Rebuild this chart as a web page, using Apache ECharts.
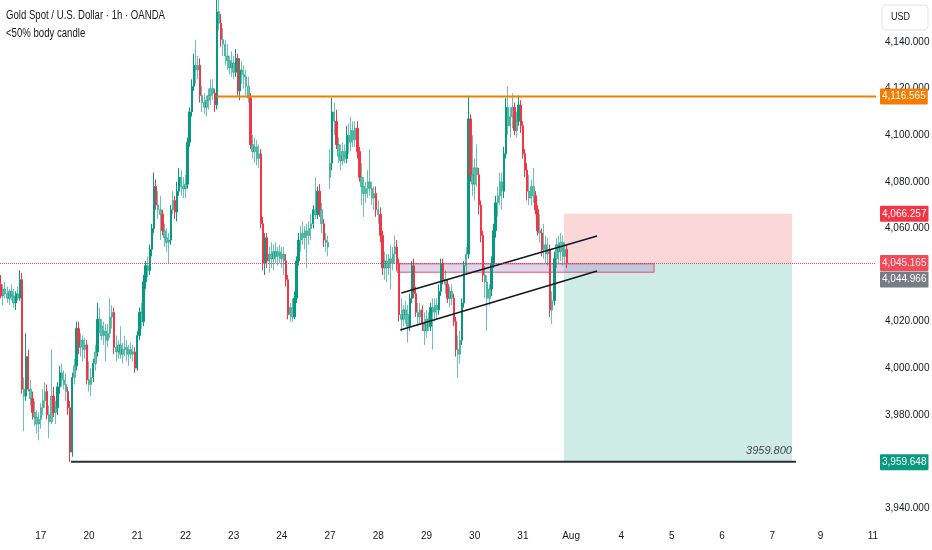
<!DOCTYPE html>
<html><head><meta charset="utf-8">
<script src="https://cdn.jsdelivr.net/npm/echarts@6/dist/echarts.min.js"></script>
<style>html,body{margin:0;padding:0;background:#fff}#c{width:932px;height:550px}</style>
</head><body><div id="c"></div>
<script>
// ---- data (hourly candles, XAU/USD) ----
const opens = [
4036,4031,4034,4032,4030,4033,4031,4028,4032,4030,
4038,3991,3988,4005,3991,3987,3981,3979,3976,3978,
3983,3986,3990,3980,3977,3988,3981,3983,3992,3998,
3995,3993,3990,3983,3964,3996,4001,4017,4009,4012,
4008,4010,3995,3993,3996,4002,4007,4021,4018,4014,
4016,4012,4015,4022,4024,4009,4007,4010,4006,4008,
4009,4006,4008,4006,4007,4000,4014,4024,4020,4037,
4044,4042,4051,4060,4078,4070,4068,4066,4059,4056,
4054,4055,4068,4072,4067,4076,4082,4078,4077,4079,
4097,4110,4121,4130,4128,4130,4117,4114,4112,4115,
4117,4120,4118,4113,4153,4148,4141,4139,4134,4132,
4129,4131,4127,4133,4119,4128,4126,4125,4121,4116,
4096,4093,4095,4090,4092,4062,4045,4056,4046,4049,
4047,4050,4048,4050,4047,4049,4046,4038,4023,4026,
4022,4030,4046,4055,4058,4056,4059,4057,4060,4062,
4068,4066,4076,4068,4062,4055,4054,4082,4088,4110,
4106,4096,4091,4089,4093,4090,4100,4097,4102,4098,
4103,4093,4082,4078,4075,4077,4080,4077,4073,4075,
4068,4066,4057,4043,4046,4043,4047,4045,4049,4052,
4045,4023,4021,4025,4023,4018,4030,4044,4032,4024,
4022,4025,4019,4016,4021,4018,4026,4024,4027,4025,
4033,4045,4038,4036,4030,4033,4030,4020,4008,4006,
4012,4028,4044,4049,4107,4083,4079,4086,4083,4070,
4057,4040,4037,4030,4034,4045,4059,4071,4074,4080,
4076,4092,4112,4104,4108,4112,4102,4106,4113,4104,
4092,4085,4076,4073,4078,4074,4068,4059,4058,4051,
4053,4049,4051,4025,4029,4047,4053,4050,4054,4048,
4051];
const highs = [
4040,4036,4037,4035,4034,4036,4034,4033,4035,4042,
4041,3996,4015,4008,3995,3990,3986,3982,3981,3985,
3991,3994,3993,3984,4008,3992,3986,3994,4001,4002,
3999,3998,3992,3986,3998,4004,4020,4020,4015,4014,
4013,4012,4003,4000,4004,4010,4028,4026,4021,4020,
4019,4019,4030,4027,4026,4014,4012,4018,4011,4014,
4012,4010,4011,4010,4009,4016,4026,4028,4040,4046,
4048,4053,4062,4084,4081,4076,4074,4068,4062,4060,
4058,4070,4076,4074,4080,4086,4085,4082,4083,4099,
4112,4124,4135,4141,4134,4133,4121,4118,4117,4120,
4124,4124,4120,4160,4162,4152,4146,4141,4139,4134,
4136,4134,4137,4135,4133,4132,4130,4128,4125,4118,
4100,4099,4098,4096,4094,4065,4058,4058,4052,4054,
4053,4054,4052,4053,4052,4052,4049,4040,4028,4030,
4033,4048,4058,4061,4063,4061,4062,4063,4066,4070,
4082,4078,4079,4071,4064,4058,4057,4094,4116,4114,
4111,4099,4096,4097,4096,4104,4105,4108,4106,4106,
4106,4095,4088,4082,4080,4085,4094,4080,4078,4078,
4072,4069,4059,4050,4049,4049,4053,4052,4057,4055,
4047,4030,4027,4029,4027,4032,4046,4047,4035,4028,
4028,4027,4024,4025,4024,4028,4030,4030,4030,4036,
4047,4047,4042,4038,4035,4036,4032,4022,4014,4016,
4030,4046,4052,4117,4109,4100,4090,4096,4086,4072,
4059,4044,4040,4036,4048,4062,4074,4078,4084,4084,
4095,4116,4121,4112,4118,4114,4110,4117,4115,4106,
4094,4088,4083,4081,4086,4076,4070,4066,4060,4062,
4057,4056,4053,4033,4050,4056,4057,4058,4057,4054,
4053];
const lows = [
4030,4027,4030,4028,4027,4029,4026,4025,4029,4029,
3989,3973,3986,3990,3984,3978,3975,3972,3969,3974,
3980,3983,3978,3970,3976,3979,3976,3980,3989,3992,
3991,3986,3980,3959.8,3962,3993,3999,4006,4005,4003,
4004,3993,3990,3988,3994,3999,4005,4015,4012,4010,
4003,4009,4013,4017,4006,4003,4004,4004,4002,4005,
4003,4001,4004,4003,3998,3999,4012,4017,4018,4034,
4039,4040,4048,4058,4068,4064,4055,4057,4052,4050,
4045,4053,4066,4064,4063,4074,4074,4073,4073,4077,
4095,4108,4119,4122,4124,4114,4110,4109,4108,4111,
4113,4115,4110,4111,4145,4138,4134,4130,4128,4126,
4125,4124,4125,4117,4115,4122,4120,4117,4114,4094,
4090,4088,4087,4086,4060,4042,4040,4043,4041,4043,
4042,4045,4044,4045,4043,4040,4035,4021,4020,4020,
4021,4028,4044,4050,4053,4051,4043,4053,4055,4060,
4064,4064,4065,4058,4052,4050,4048,4077,4085,4100,
4094,4088,4085,4087,4088,4088,4092,4093,4095,4095,
4090,4080,4070,4065,4071,4073,4074,4070,4068,4065,
4062,4054,4040,4038,4037,4040,4034,4042,4045,4042,
4020,4016,4018,4019,4011,4016,4028,4030,4022,4018,
4019,4016,4010,4013,4016,4016,4008,4020,4021,4023,
4031,4036,4032,4028,4026,4027,4018,4005,3996,4002,
4010,4026,4040,4047,4080,4074,4072,4078,4066,4054,
4037,4030,4016,4027,4031,4043,4056,4065,4070,4068,
4073,4090,4100,4099,4103,4100,4099,4104,4101,4090,
4082,4072,4070,4070,4071,4066,4057,4054,4048,4047,
4045,4044,4022,4019,4027,4043,4045,4046,4044,4045,
4043];
const closes = [
4031,4034,4032,4030,4033,4031,4028,4032,4030,4038,
3991,3988,4005,3991,3987,3981,3979,3976,3978,3983,
3986,3990,3980,3977,3988,3981,3983,3992,3998,3995,
3993,3990,3983,3964,3996,4001,4017,4009,4012,4008,
4010,3995,3993,3996,4002,4007,4021,4018,4014,4016,
4012,4015,4022,4024,4009,4007,4010,4006,4008,4009,
4006,4008,4006,4007,4000,4014,4024,4020,4037,4044,
4042,4051,4060,4078,4070,4068,4066,4059,4056,4054,
4055,4068,4072,4067,4076,4082,4078,4077,4079,4097,
4110,4121,4130,4128,4130,4117,4114,4112,4115,4117,
4120,4118,4113,4153,4148,4141,4139,4134,4132,4129,
4131,4127,4133,4119,4128,4126,4125,4121,4116,4096,
4093,4095,4090,4092,4062,4045,4056,4046,4049,4047,
4050,4048,4050,4047,4049,4046,4038,4023,4026,4022,
4030,4046,4055,4058,4056,4059,4057,4060,4062,4068,
4066,4076,4068,4062,4055,4054,4052,4088,4110,4106,
4096,4091,4089,4093,4090,4100,4097,4102,4098,4103,
4093,4082,4078,4075,4077,4080,4077,4073,4075,4068,
4066,4057,4043,4046,4043,4047,4045,4049,4052,4045,
4023,4021,4025,4023,4018,4030,4044,4032,4024,4022,
4025,4019,4016,4021,4018,4026,4024,4027,4025,4033,
4045,4038,4036,4030,4033,4030,4020,4008,4006,4012,
4028,4044,4049,4107,4083,4079,4086,4083,4070,4057,
4040,4037,4030,4034,4045,4059,4071,4074,4080,4076,
4092,4112,4104,4108,4112,4102,4106,4113,4104,4092,
4085,4076,4073,4078,4074,4068,4059,4058,4051,4053,
4049,4051,4025,4029,4047,4053,4050,4054,4048,4051,
4045.165];

const dayLabels     = ['17','20','21','22','23','24','27','28','29','30','31','Aug','4','5','6','7','9','11'];
const dayLabelIndex = [19,42,65,88,111,134,157,180,203,226,249,272,296,320,344,368,391,416];
const totalSlots = 418;

const resistanceLevel = 4116.565, resistanceStart = 103;
const lastPrice = 4045.165, bidPrice = 4044.966;
const stopPrice = 4066.257, targetPrice = 3959.648;
const supportLevel = 3959.8, supportFrom = 33.4, supportTo = 379.3;
const channelUpper = [[191, 4032.3], [284.4, 4056.7]];
const channelLower = [[190.5, 4016.4], [284.4, 4041.7]];
const zoneX = [188.9, 311.6], zoneY = [4044.8, 4041.2];
const positionX = [268.6, 377.4];
const hiddenTicks = [3960, 4040];
const viewMin = 3934.85, viewMax = 4158.03;

// ---- styling ----
const FONT = "'Liberation Sans',Arial,sans-serif";
const UP = '#089981', DN = '#F23645';
const UPF = 'rgba(8,153,129,0.6)', DNF = 'rgba(242,54,69,0.6)';
const TXT = '#131722';

const cats = new Array(totalSlots).fill('');
dayLabels.forEach((l, k) => { cats[dayLabelIndex[k]] = l; });

const candles = opens.map((o, i) => {
  const c = closes[i], h = highs[i], l = lows[i];
  const weak = Math.abs(c - o) < 0.5 * (h - l);
  const item = { value: [o, c, l, h] };
  if (weak) item.itemStyle = { color: UPF, color0: DNF, borderColor: UPF, borderColor0: DNF };
  return item;
});

const fmt = v => Number(v).toLocaleString('en-US', { minimumFractionDigits: 3, maximumFractionDigits: 3 });
const priceTag = (v, bg, extra) => Object.assign({
  show: true, position: 'end', distance: 4, formatter: () => fmt(v),
  backgroundColor: bg, color: '#fff', fontFamily: FONT, fontSize: 10, lineHeight: 12,
  padding: [2, 2, 2, 2], borderRadius: 1
}, extra || {});
const noLine = { color: 'rgba(0,0,0,0)', width: 0 };
const tagLine = (v, bg, line, extra) => ({ yAxis: v, lineStyle: line || noLine, label: priceTag(v, bg, extra) });

const chart = echarts.init(document.getElementById('c'));
chart.setOption({
  animation: false,
  backgroundColor: '#ffffff',
  grid: { left: 0, right: 56, top: 0, bottom: 30, containLabel: false, outerBoundsMode: 'none' },
  xAxis: [
    { type: 'category', data: cats, boundaryGap: true,
      axisLine: { show: false }, axisTick: { show: false }, splitLine: { show: false },
      axisLabel: { interval: (i, v) => v !== '', margin: 11, color: TXT, fontFamily: FONT, fontSize: 10 } },
    { type: 'value', min: -0.5, max: totalSlots - 0.5, show: false }
  ],
  yAxis: {
    type: 'value', position: 'right', min: viewMin, max: viewMax, splitNumber: 11, scale: true,
    axisLine: { show: false }, axisTick: { show: false }, splitLine: { show: false },
    axisLabel: {
      margin: 9, color: TXT, fontFamily: FONT, fontSize: 10,
      showMinLabel: false, showMaxLabel: false,
      formatter: v => (Math.abs(v % 20) > 1e-6 || hiddenTicks.includes(Math.round(v))) ? '' : fmt(v)
    }
  },
  graphic: [
    { type: 'text', x: 6, y: 16, scaleX: 0.8,
      style: { text: 'Gold Spot / U.S. Dollar · 1h · OANDA', fill: TXT, font: '12px ' + FONT, textVerticalAlign: 'middle' } },
    { type: 'text', x: 6, y: 34, scaleX: 0.8,
      style: { text: '<50% body candle', fill: TXT, font: '12px ' + FONT, textVerticalAlign: 'middle' } },
    { type: 'rect', shape: { x: 882, y: 5, width: 46, height: 25, r: 4 },
      style: { fill: '#fff', stroke: '#e0e3eb', lineWidth: 1 } },
    { type: 'text', x: 891, y: 17.5, scaleX: 0.9,
      style: { text: 'USD', fill: TXT, font: '10px ' + FONT, textVerticalAlign: 'middle' } }
  ],
  series: [
    { // position tool (behind candles)
      type: 'line', xAxisIndex: 1, z: 1, data: [], silent: true,
      markArea: {
        silent: true,
        data: [
          [{ coord: [positionX[0], stopPrice], itemStyle: { color: 'rgba(242,54,69,0.2)' } }, { coord: [positionX[1], lastPrice] }],
          [{ coord: [positionX[0], lastPrice], itemStyle: { color: 'rgba(8,153,129,0.2)' } }, { coord: [positionX[1], targetPrice] }]
        ]
      }
    },
    {
      type: 'candlestick', xAxisIndex: 0, yAxisIndex: 0, z: 2,
      data: candles, barWidth: '90%',
      itemStyle: { color: UP, color0: DN, borderColor: UP, borderColor0: DN, borderWidth: 1 },
      markLine: {
        silent: true, symbol: ['none', 'none'], animation: false, precision: 3,
        data: [
          tagLine(lastPrice, DN, { color: DN, type: 'dotted', width: 1, opacity: 0.9 }),
          tagLine(resistanceLevel, '#F57C00'),
          tagLine(stopPrice, DN),
          tagLine(bidPrice, '#787B86', null, { offset: [0, 16] }),
          tagLine(targetPrice, UP)
        ]
      }
    },
    { // zone rectangle
      type: 'line', xAxisIndex: 1, z: 3, data: [], silent: true,
      markArea: {
        silent: true,
        itemStyle: { color: 'rgba(140,110,200,0.28)', borderColor: 'rgba(242,54,69,0.85)', borderWidth: 1 },
        data: [[{ coord: [zoneX[0], zoneY[0]] }, { coord: [zoneX[1], zoneY[1]] }]]
      }
    },
    { type: 'line', xAxisIndex: 1, z: 4, symbol: 'none', silent: true,
      lineStyle: { color: '#F57C00', width: 2 },
      data: [[resistanceStart, resistanceLevel], [totalSlots - 0.5, resistanceLevel]] },
    { type: 'line', xAxisIndex: 1, z: 4, symbol: 'circle', symbolSize: 1, showSymbol: true, silent: true,
      itemStyle: { color: 'rgba(0,0,0,0)', borderWidth: 0 },
      lineStyle: { color: '#2a2e39', width: 2 },
      data: [{ value: [supportFrom, supportLevel], label: { show: false } },
             { value: [supportTo, supportLevel],
               label: { show: true, position: 'top', align: 'right', offset: [-4, -1], distance: 4,
                        formatter: supportLevel.toFixed(3), fontStyle: 'italic',
                        fontFamily: FONT, fontSize: 11, color: '#434651' } }] },
    { type: 'line', xAxisIndex: 1, z: 4, symbol: 'none', silent: true,
      lineStyle: { color: TXT, width: 1.5 }, data: channelUpper },
    { type: 'line', xAxisIndex: 1, z: 4, symbol: 'none', silent: true,
      lineStyle: { color: TXT, width: 1.5 }, data: channelLower }
  ]
});
</script></body></html>
